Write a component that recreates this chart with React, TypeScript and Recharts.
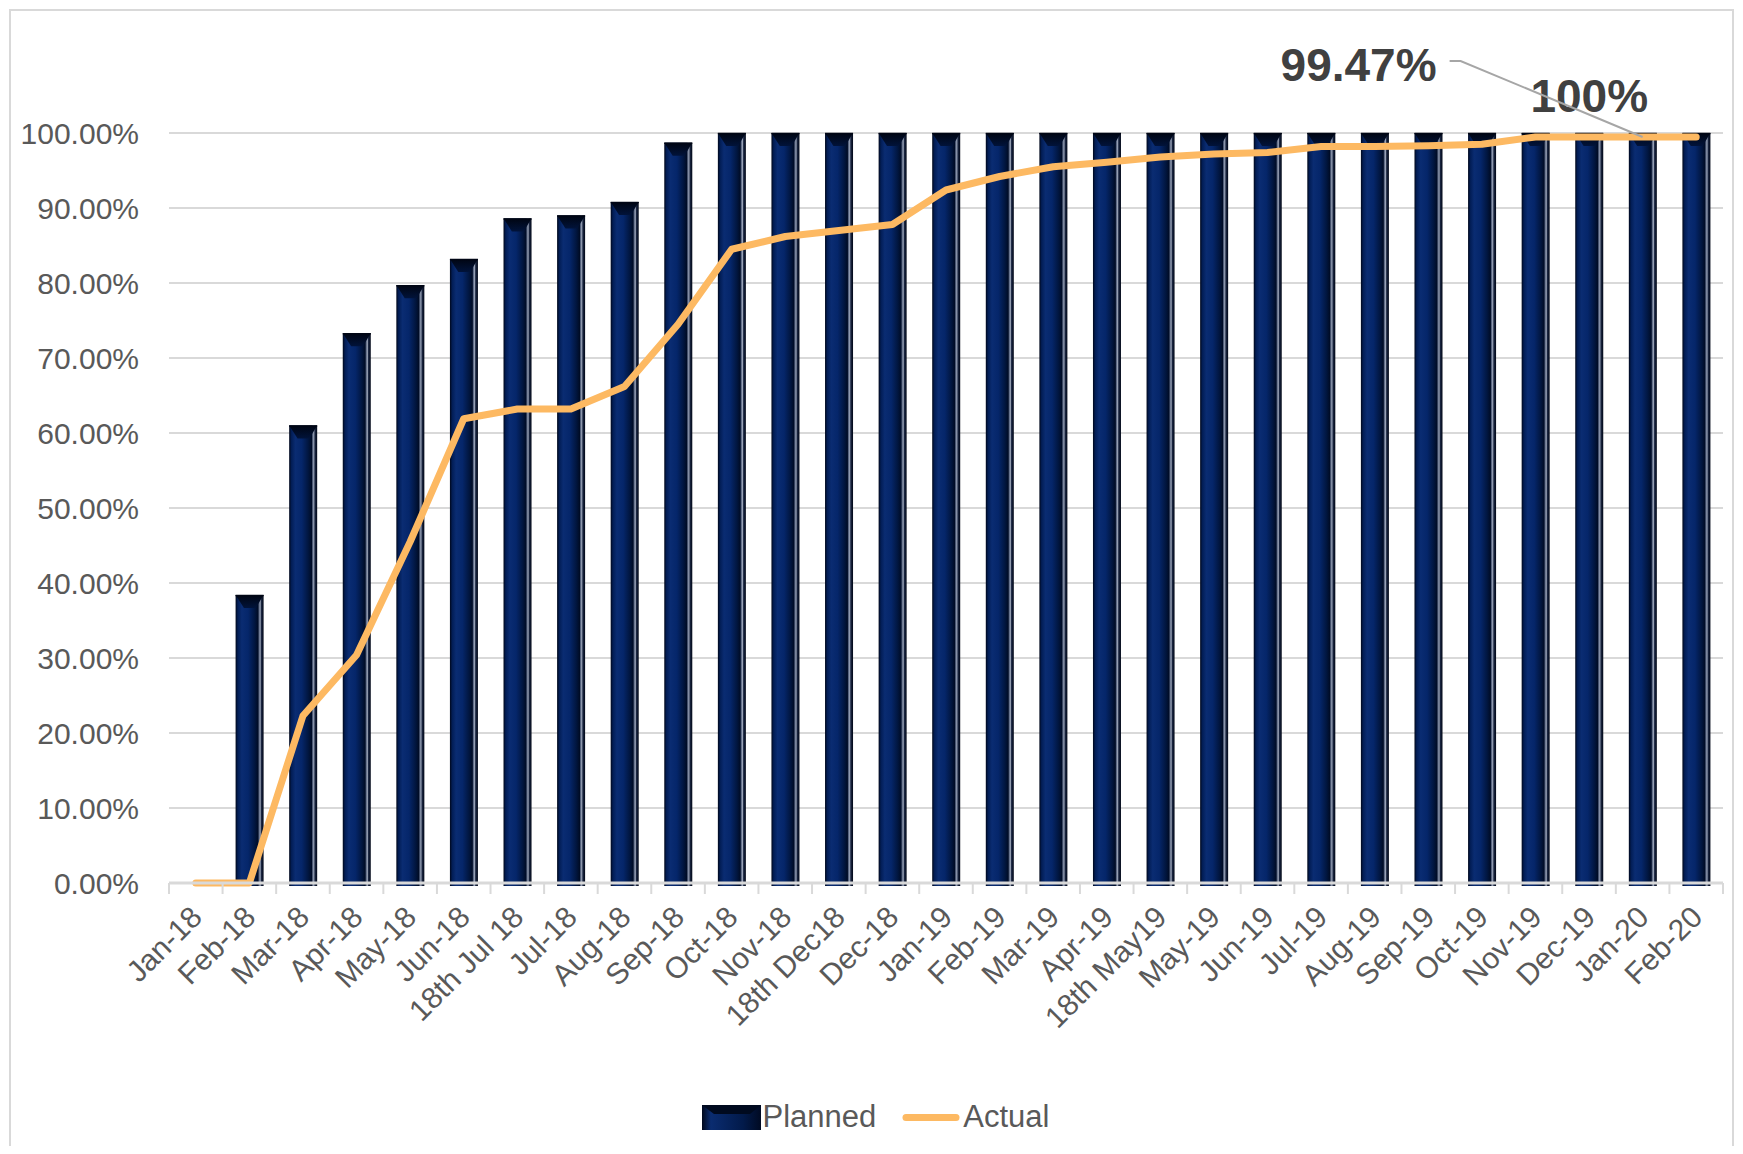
import React from "react";
import {
  ComposedChart,
  Bar,
  Line,
  XAxis,
  YAxis,
  CartesianGrid,
  Legend,
  LabelList,
} from "recharts";

const categories = [
  "Jan-18", "Feb-18", "Mar-18", "Apr-18", "May-18", "Jun-18", "18th Jul 18",
  "Jul-18", "Aug-18", "Sep-18", "Oct-18", "Nov-18", "18th Dec18", "Dec-18",
  "Jan-19", "Feb-19", "Mar-19", "Apr-19", "18th May19", "May-19", "Jun-19",
  "Jul-19", "Aug-19", "Sep-19", "Oct-19", "Nov-19", "Dec-19", "Jan-20", "Feb-20",
];

const planned = [
  0, 38.4, 61.0, 73.3, 79.7, 83.2, 88.6, 89.0, 90.8, 98.7,
  100, 100, 100, 100, 100, 100, 100, 100, 100, 100,
  100, 100, 100, 100, 100, 100, 100, 100, 100,
];

const actual = [
  0, 0, 22.3, 30.4, 45.5, 61.9, 63.2, 63.2, 66.2, 74.5,
  84.5, 86.2, 87.0, 87.8, 92.4, 94.2, 95.5, 96.1, 96.8, 97.2,
  97.4, 98.2, 98.2, 98.3, 98.5, 99.47, 99.47, 99.47, 99.47,
];

const yTicks = [0, 10, 20, 30, 40, 50, 60, 70, 80, 90, 100];

const plannedNotes = [{ category: "Dec-19", text: "100%" }];
const actualNotes = [{ category: "Jan-20", text: "99.47%" }];

const data = categories.map((c, i) => ({
  category: c,
  planned: planned[i],
  actual: actual[i],
  plannedNote: plannedNotes.find((n) => n.category === c)?.text ?? "",
  actualNote: actualNotes.find((n) => n.category === c)?.text ?? "",
}));

const FONT = '"Liberation Sans", Arial, sans-serif';
const ORANGE = "#FDB962";
const GRID = "#D9D9D9";
const TEXT = "#595959";

const BarShape = (props: any) => {
  const { x, y, width, height } = props;
  if (!height || height <= 0) return null;
  const bev = Math.min(13, height);
  return (
    <g>
      <rect x={x} y={y} width={width} height={height + 3} fill="url(#barGrad)" />
      <polygon
        points={`${x},${y} ${x + width},${y} ${x + width * 0.72},${y + bev} ${x + width * 0.3},${y + bev}`}
        fill="url(#bevelGrad)"
      />
      <line x1={x} y1={y + 0.5} x2={x + width} y2={y + 0.5} stroke="#000615" strokeWidth={1.5} />
    </g>
  );
};

const XTick = (props: any) => {
  const { x, y, payload, index, visibleTicksCount } = props;
  const band = 1554 / 29;
  const last = index === (visibleTicksCount ?? 29) - 1;
  return (
    <g>
      <line x1={x - band / 2} y1={y} x2={x - band / 2} y2={y + 11} stroke={GRID} strokeWidth={2} />
      {last && <line x1={x + band / 2} y1={y} x2={x + band / 2} y2={y + 11} stroke={GRID} strokeWidth={2} />}
      <text
        x={0}
        y={0}
        transform={`translate(${x + 8},${y + 36}) rotate(-45)`}
        textAnchor="end"
        fontFamily={FONT}
        fontSize={30}
        fill={TEXT}
      >
        {payload.value}
      </text>
    </g>
  );
};

const PlannedNote = (props: any) => {
  const { x, y, width, value } = props;
  if (!value) return null;
  return (
    <text
      x={x + width / 2}
      y={y - 21}
      textAnchor="middle"
      fontFamily={FONT}
      fontWeight="bold"
      fontSize={46}
      fill="#404040"
    >
      {value}
    </text>
  );
};

const ActualNote = (props: any) => {
  const { x, y, value } = props;
  if (!value) return null;
  return (
    <g>
      <polyline
        points={`${x - 193},${y - 76} ${x - 182},${y - 76} ${x},${y}`}
        fill="none"
        stroke="#A6A6A6"
        strokeWidth={2}
      />
      <text
        x={x - 206}
        y={y - 56}
        textAnchor="end"
        fontFamily={FONT}
        fontWeight="bold"
        fontSize={46}
        fill="#404040"
      >
        {value}
      </text>
    </g>
  );
};

const LegendContent = () => (
  <div
    style={{
      height: 36,
      display: "flex",
      justifyContent: "center",
      alignItems: "center",
      fontFamily: FONT,
      fontSize: 31,
      color: TEXT,
    }}
  >
    <svg width={59} height={25} style={{ marginRight: 2 }}>
      <defs>
        <linearGradient id="legGrad" x1="0" y1="0" x2="1" y2="0">
          <stop offset="0%" stopColor="#00081c" />
          <stop offset="15%" stopColor="#0a2c70" />
          <stop offset="70%" stopColor="#021a4a" />
          <stop offset="100%" stopColor="#000a22" />
        </linearGradient>
      </defs>
      <rect x={0} y={0} width={59} height={25} fill="url(#legGrad)" />
      <polygon points="0,0 59,0 48,9 12,9" fill="#000a1f" />
    </svg>
    <span>Planned</span>
    <svg width={58} height={25} style={{ marginLeft: 26, marginRight: 3 }}>
      <line x1={4} y1={12.5} x2={54} y2={12.5} stroke={ORANGE} strokeWidth={7} strokeLinecap="round" />
    </svg>
    <span>Actual</span>
  </div>
);

export default function App() {
  return (
    <div style={{ position: "relative", width: 1727, height: 1138, background: "#fff" }}>
      <div
        style={{
          position: "absolute",
          left: 1,
          top: 1,
          width: 1725,
          height: 1137,
          borderTop: "2px solid #D9D9D9",
          borderLeft: "2px solid #D9D9D9",
          borderRight: "2px solid #D9D9D9",
          boxSizing: "border-box",
        }}
      />
      <ComposedChart
        width={1727}
        height={1138}
        data={data}
        margin={{ top: 125, right: 12, bottom: 11, left: 20 }}
        barCategoryGap="24%"
        style={{ position: "absolute", left: 0, top: 0 }}
      >
        <defs>
          <linearGradient id="barGrad" x1="0" y1="0" x2="1" y2="0">
            <stop offset="0%" stopColor="#00071a" />
            <stop offset="8%" stopColor="#021d55" />
            <stop offset="22%" stopColor="#0a2c72" />
            <stop offset="45%" stopColor="#05266a" />
            <stop offset="68%" stopColor="#011640" />
            <stop offset="80%" stopColor="#000c26" />
            <stop offset="84%" stopColor="#5d6a86" />
            <stop offset="88%" stopColor="#9aa3b6" />
            <stop offset="92%" stopColor="#1a2642" />
            <stop offset="100%" stopColor="#000615" />
          </linearGradient>
          <linearGradient id="bevelGrad" x1="0" y1="0" x2="0" y2="1">
            <stop offset="0%" stopColor="#000512" />
            <stop offset="100%" stopColor="#01133a" />
          </linearGradient>
        </defs>
        <CartesianGrid vertical={false} stroke={GRID} strokeWidth={2} />
        <XAxis
          dataKey="category"
          interval={0}
          height={216}
          tickLine={false}
          tickSize={0}
          tickMargin={0}
          axisLine={{ stroke: GRID, strokeWidth: 3 }}
          tick={<XTick />}
        />
        <YAxis
          width={141}
          domain={[0, 100]}
          ticks={yTicks}
          interval={0}
          axisLine={false}
          tickLine={false}
          tickSize={0}
          tickMargin={30}
          tickFormatter={(v: number) => `${v.toFixed(2)}%`}
          tick={{ fontFamily: FONT, fontSize: 30, fill: TEXT }}
        />
        <Legend verticalAlign="bottom" align="center" height={36} content={<LegendContent />} />
        <Bar dataKey="planned" name="Planned" barSize={28} shape={<BarShape />} isAnimationActive={false}>
          <LabelList dataKey="plannedNote" content={<PlannedNote />} />
        </Bar>
        <Line
          dataKey="actual"
          name="Actual"
          type="linear"
          stroke={ORANGE}
          strokeWidth={7}
          strokeLinecap="round"
          strokeLinejoin="round"
          dot={false}
          activeDot={false}
          isAnimationActive={false}
        >
          <LabelList dataKey="actualNote" content={<ActualNote />} />
        </Line>
      </ComposedChart>
    </div>
  );
}
